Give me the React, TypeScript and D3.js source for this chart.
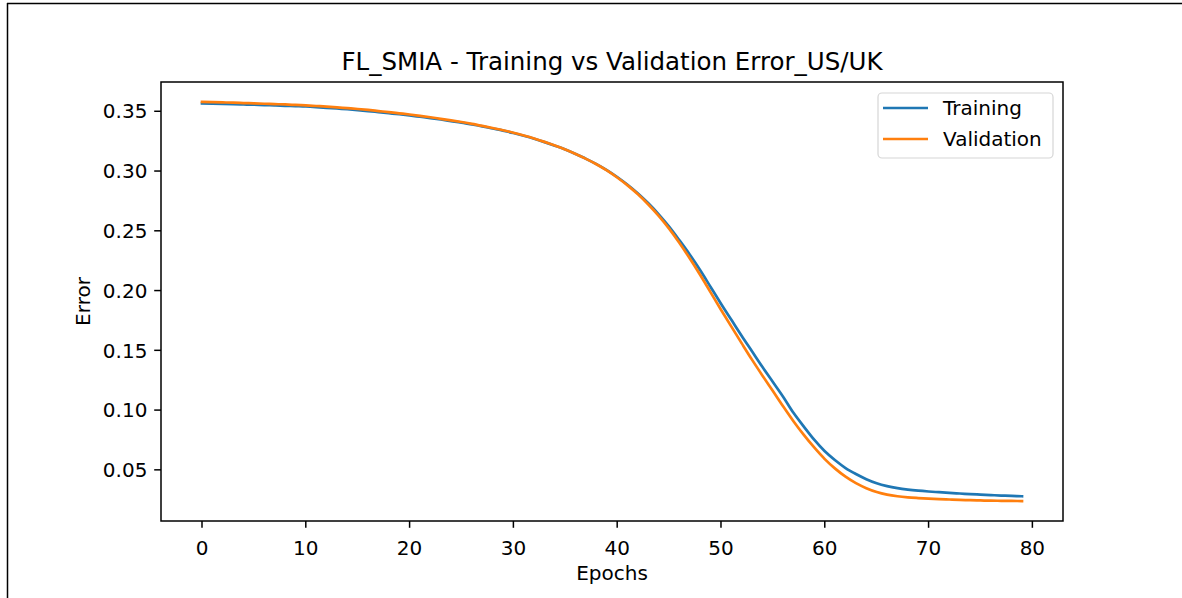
import React from 'react';
import * as d3 from 'd3';

const epochs = d3.range(0, 80);

const trainingError = [
  0.3565, 0.3563, 0.3561, 0.3559, 0.3557, 0.3555, 0.3552, 0.3549, 0.3546, 0.3543,
  0.3540, 0.3535, 0.3529, 0.3523, 0.3517, 0.3510, 0.3502, 0.3493, 0.3484, 0.3475,
  0.3465, 0.3454, 0.3443, 0.3431, 0.3418, 0.3405, 0.3390, 0.3374, 0.3356, 0.3338,
  0.3318, 0.3295, 0.3270, 0.3242, 0.3212, 0.3180, 0.3142, 0.3102, 0.3058, 0.3008,
  0.2950, 0.2885, 0.2812, 0.2730, 0.2638, 0.2535, 0.2420, 0.2300, 0.2170, 0.2030,
  0.1890, 0.1755, 0.1620, 0.1490, 0.1360, 0.1235, 0.1110, 0.0975, 0.0860, 0.0750,
  0.0655, 0.0580, 0.0515, 0.0465, 0.0422, 0.0388, 0.0364, 0.0347, 0.0335, 0.0326,
  0.0319, 0.0313, 0.0307, 0.0302, 0.0297, 0.0293, 0.0289, 0.0285, 0.0282, 0.0279,
];

const validationError = [
  0.3578, 0.3576, 0.3574, 0.3572, 0.3569, 0.3566, 0.3563, 0.3560, 0.3557, 0.3553,
  0.3549, 0.3544, 0.3539, 0.3533, 0.3526, 0.3519, 0.3511, 0.3502, 0.3493, 0.3483,
  0.3473, 0.3462, 0.3450, 0.3437, 0.3424, 0.3410, 0.3395, 0.3378, 0.3360, 0.3341,
  0.3320, 0.3297, 0.3272, 0.3244, 0.3213, 0.3180, 0.3143, 0.3102, 0.3057, 0.3005,
  0.2946, 0.2880, 0.2805, 0.2720, 0.2625, 0.2518, 0.2398, 0.2268, 0.2130, 0.1985,
  0.1840, 0.1698, 0.1558, 0.1420, 0.1288, 0.1160, 0.1030, 0.0905, 0.0790, 0.0685,
  0.0590, 0.0510, 0.0443, 0.0389, 0.0347, 0.0315, 0.0293, 0.0279, 0.0270, 0.0264,
  0.0259, 0.0255, 0.0252, 0.0249, 0.0246, 0.0244, 0.0242, 0.0241, 0.0240, 0.0239,
];

const xTicks = [0, 10, 20, 30, 40, 50, 60, 70, 80];
const yTicks = [0.05, 0.1, 0.15, 0.2, 0.25, 0.3, 0.35];

const series = [
  { name: 'Training', values: trainingError, color: '#1f77b4' },
  { name: 'Validation', values: validationError, color: '#ff7f0e' },
];

const W = 1182;
const H = 598;
const box = { left: 161, top: 82, right: 1063, bottom: 521 };
const font = '"DejaVu Sans", sans-serif';
const fs = 20;

export default function App() {
  // matplotlib style 5% margins
  const xPad = (d3.max(epochs)! - d3.min(epochs)!) * 0.05;
  const x = d3.scaleLinear()
    .domain([d3.min(epochs)! - xPad, d3.max(epochs)! + xPad])
    .range([box.left, box.right]);

  const all = trainingError.concat(validationError);
  const lo = d3.min(all)!, hi = d3.max(all)!;
  const yPad = (hi - lo) * 0.05;
  const y = d3.scaleLinear()
    .domain([lo - yPad, hi + yPad])
    .range([box.bottom, box.top]);

  const line = d3.line<number>()
    .x((_, i) => x(epochs[i]))
    .y(d => y(d))
    .curve(d3.curveMonotoneX);

  const tickLen = 6.8;

  return (
    <svg width={W} height={H} style={{ position: 'absolute', left: 0, top: 0, background: '#fff' }}>
      {/* outer frame of the screenshot */}
      <line x1={7.5} y1={3} x2={7.5} y2={H} stroke="#000" strokeWidth={1.5} />
      <line x1={7} y1={3.5} x2={W} y2={3.5} stroke="#000" strokeWidth={1.5} />

      <text x={(box.left + box.right) / 2} y={70} textAnchor="middle"
        fontFamily={font} fontSize={24.5} fill="#000">
        FL_SMIA - Training vs Validation Error_US/UK
      </text>

      {series.map(s => (
        <path key={s.name} d={line(s.values)!} fill="none" stroke={s.color}
          strokeWidth={2.7} strokeLinejoin="round" strokeLinecap="square" />
      ))}

      {/* spines */}
      <rect x={box.left} y={box.top} width={box.right - box.left} height={box.bottom - box.top}
        fill="none" stroke="#000" strokeWidth={1.5} />

      {xTicks.map(t => (
        <g key={'x' + t}>
          <line x1={x(t)} x2={x(t)} y1={box.bottom} y2={box.bottom + tickLen} stroke="#000" strokeWidth={1.5} />
          <text x={x(t)} y={box.bottom + 34} textAnchor="middle" fontFamily={font} fontSize={fs} fill="#000">
            {t}
          </text>
        </g>
      ))}

      {yTicks.map(t => (
        <g key={'y' + t}>
          <line x1={box.left - tickLen} x2={box.left} y1={y(t)} y2={y(t)} stroke="#000" strokeWidth={1.5} />
          <text x={box.left - tickLen - 6.8} y={y(t)} dy="0.36em" textAnchor="end" fontFamily={font} fontSize={fs} fill="#000">
            {d3.format('.2f')(t)}
          </text>
        </g>
      ))}

      <text x={(box.left + box.right) / 2} y={580} textAnchor="middle" fontFamily={font} fontSize={fs} fill="#000">
        Epochs
      </text>
      <text transform={`translate(90, ${(box.top + box.bottom) / 2}) rotate(-90)`} textAnchor="middle"
        fontFamily={font} fontSize={fs} fill="#000">
        Error
      </text>

      {/* legend */}
      <rect x={878} y={93} width={175} height={65} rx={4} fill="#fff" fillOpacity={0.8}
        stroke="#d6d6d6" strokeWidth={1.2} />
      {series.map((s, i) => (
        <g key={'lg' + s.name}>
          <line x1={883} x2={928} y1={108 + i * 31} y2={108 + i * 31} stroke={s.color} strokeWidth={2.7} />
          <text x={943} y={108 + i * 31} dy="0.36em" fontFamily={font} fontSize={fs} fill="#000">
            {s.name}
          </text>
        </g>
      ))}
    </svg>
  );
}
